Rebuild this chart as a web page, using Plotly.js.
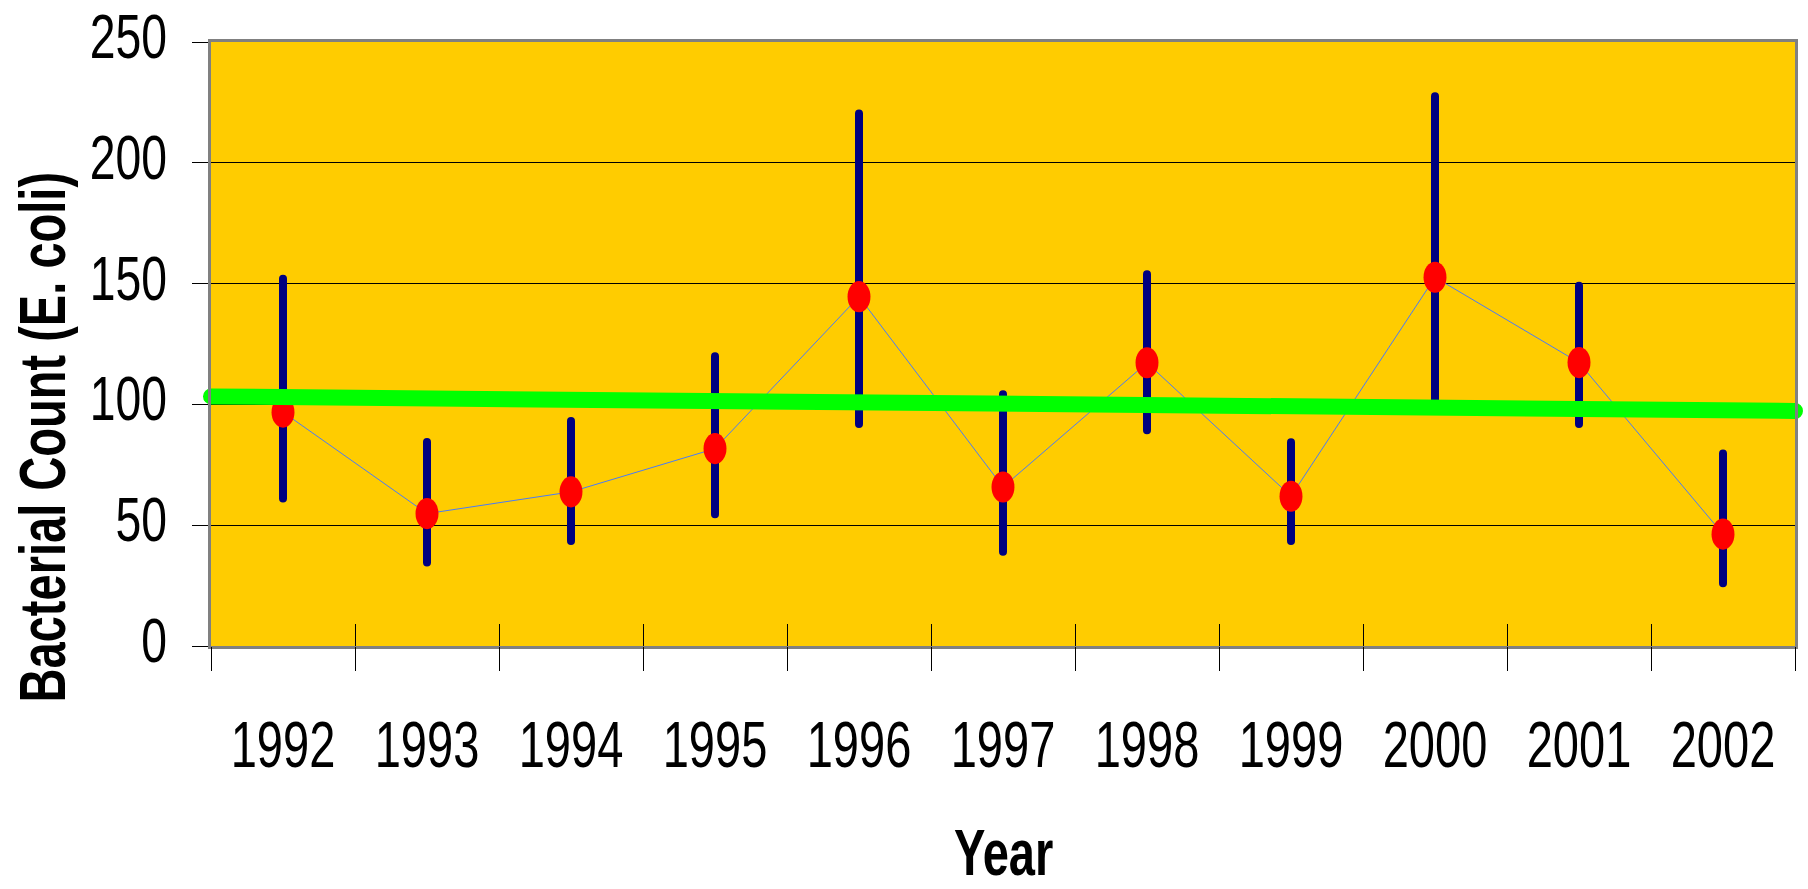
<!DOCTYPE html>
<html>
<head>
<meta charset="utf-8">
<script src="https://cdn.plot.ly/plotly-3.0.1.min.js"></script>
<style>html,body{margin:0;padding:0;background:#fff;}#chart{width:1808px;height:889px;}</style>
</head>
<body>
<div id="chart"></div>
<script>
// Data
const years = [1992, 1993, 1994, 1995, 1996, 1997, 1998, 1999, 2000, 2001, 2002];
const yearLabels = ["1992", "1993", "1994", "1995", "1996", "1997", "1998", "1999", "2000", "2001", "2002"];
const meanCount = [96.8, 54.8, 63.8, 81.7, 144.6, 65.8, 117.2, 62.0, 152.6, 117.3, 46.3];
const upperCount = [152.0, 84.4, 93.1, 119.9, 220.4, 104.2, 153.9, 84.3, 227.5, 149.1, 79.7];
const lowerCount = [61.0, 34.6, 43.5, 54.5, 91.9, 39.0, 89.3, 43.5, 101.5, 91.9, 26.0];
const trendYears = [1991.5, 2002.5];
const trendCount = [103.3, 97.3];
const yTicks = [0, 50, 100, 150, 200, 250];
const xTitle = "Year";
const yTitle = "Bacterial Count (E. coli)";

const errPlus = meanCount.map((m, i) => upperCount[i] - m);
const errMinus = meanCount.map((m, i) => m - lowerCount[i]);

const SANS = "Liberation Sans, Arial, sans-serif";
const SQUEEZE = 0.735; // horizontal compression to mimic the narrow typeface
const TREND_COLOR = "#00FF00";

const traces = [
  {
    type: "scatter",
    mode: "lines+markers",
    x: years,
    y: meanCount,
    line: {color: "#4A7BF7", width: 1},
    marker: {color: "#FF0000", size: 27, line: {width: 0}},
    error_y: {
      type: "data",
      symmetric: false,
      array: errPlus,
      arrayminus: errMinus,
      color: "#000080",
      thickness: 8,
      width: 0
    },
    showlegend: false,
    hoverinfo: "x+y"
  },
  {
    type: "scatter",
    mode: "lines",
    x: trendYears,
    y: trendCount,
    xaxis: "x2",
    line: {color: TREND_COLOR, width: 16},
    showlegend: false,
    hoverinfo: "skip"
  },
  {
    type: "scatter",
    mode: "lines",
    x: [],
    y: [],
    xaxis: "x3",
    showlegend: false,
    hoverinfo: "skip"
  }
];

const xRange = [1991.5, 2002.5];

// y tick labels as right-aligned annotations so they can be drawn in a narrow face
const yLabelAnns = yTicks.map(function (v) {
  return {
    text: String(v),
    xref: "paper",
    yref: "y",
    x: -0.0265,
    y: v,
    xanchor: "right",
    yanchor: "middle",
    yshift: 6,
    showarrow: false,
    font: {family: SANS, size: 63, color: "#000000"}
  };
});

const layout = {
  width: 1808,
  height: 889,
  margin: {l: 211, r: 13, t: 42, b: 243, pad: 0},
  paper_bgcolor: "#FFFFFF",
  plot_bgcolor: "#FFCC00",
  showlegend: false,
  font: {family: SANS, color: "#000000"},
  xaxis: {
    range: xRange,
    tickmode: "array",
    tickvals: years,
    ticktext: yearLabels,
    tickangle: 0,
    ticks: "",
    ticklabelstandoff: 41,
    tickfont: {family: SANS, size: 64, color: "#000000"},
    showgrid: false,
    zeroline: false,
    showline: true,
    linecolor: "#808080",
    linewidth: 3,
    mirror: true,
    fixedrange: true
  },
  xaxis2: {
    overlaying: "x",
    anchor: "y",
    side: "bottom",
    range: xRange,
    tickmode: "linear",
    tick0: 1991.5,
    dtick: 1,
    ticks: "inside",
    ticklen: 22,
    tickwidth: 1,
    tickcolor: "#000000",
    showticklabels: false,
    showgrid: false,
    zeroline: false,
    showline: false,
    fixedrange: true
  },
  xaxis3: {
    overlaying: "x",
    anchor: "y",
    side: "bottom",
    range: xRange,
    tickmode: "linear",
    tick0: 1991.5,
    dtick: 1,
    ticks: "outside",
    ticklen: 24,
    tickwidth: 1,
    tickcolor: "#000000",
    showticklabels: false,
    showgrid: false,
    zeroline: false,
    showline: false,
    fixedrange: true
  },
  yaxis: {
    range: [0, 250],
    tickmode: "array",
    tickvals: yTicks,
    ticks: "outside",
    ticklen: 16,
    tickwidth: 1,
    tickcolor: "#000000",
    showticklabels: false,
    showgrid: true,
    gridcolor: "#000000",
    gridwidth: 1,
    zeroline: false,
    showline: true,
    linecolor: "#808080",
    linewidth: 3,
    mirror: true,
    fixedrange: true
  },
  annotations: [
    {
      text: yTitle,
      xref: "paper",
      yref: "paper",
      x: -0.106,
      y: 0.346,
      xanchor: "center",
      yanchor: "middle",
      textangle: -90,
      showarrow: false,
      font: {family: SANS, size: 64, weight: 700, color: "#000000"}
    },
    {
      text: xTitle,
      xref: "paper",
      yref: "paper",
      x: 0.5,
      y: -0.343,
      xanchor: "center",
      yanchor: "middle",
      showarrow: false,
      font: {family: SANS, size: 64, weight: 700, color: "#000000"}
    }
  ].concat(yLabelAnns)
};

function anchorX(t, mode) {
  let bb;
  try { bb = t.getBBox(); } catch (e) { bb = null; }
  if (bb && bb.width > 0) {
    if (mode === "right") return bb.x + bb.width;
    if (mode === "center") return bb.x + bb.width / 2;
    const anchor = t.getAttribute("text-anchor") || "start";
    if (anchor === "end") return bb.x + bb.width;
    if (anchor === "middle") return bb.x + bb.width / 2;
    return bb.x;
  }
  return parseFloat(t.getAttribute("x")) || 0;
}

function squeezeOne(t, sx, mode) {
  const cur = t.getAttribute("transform") || "";
  if (t.getAttribute("data-sq") === cur && cur.indexOf("scale(" + sx) >= 0) return;
  const x = anchorX(t, mode);
  const next = cur + " translate(" + x + ",0) scale(" + sx + ",1) translate(" + (-x) + ",0)";
  t.setAttribute("data-sq", next);
  t.setAttribute("transform", next);
}

function styleMarks(gd) {
  gd.querySelectorAll(".xtick text").forEach(function (t) { squeezeOne(t, SQUEEZE, "auto"); });
  gd.querySelectorAll("g.annotation").forEach(function (g) {
    const idx = parseInt(g.getAttribute("data-index"), 10);
    const ann = (gd.layout.annotations || [])[idx];
    const mode = ann && ann.xanchor === "right" ? "right" : "center";
    g.querySelectorAll("text.annotation-text").forEach(function (t) { squeezeOne(t, SQUEEZE, mode); });
  });
  gd.querySelectorAll(".errorbar path").forEach(function (p) {
    if (p.style.strokeLinecap !== "round") p.style.strokeLinecap = "round";
  });
  gd.querySelectorAll(".scatterlayer .trace:first-child .points path").forEach(function (p) {
    const cur = p.getAttribute("transform") || "";
    if (cur.indexOf("scale(") >= 0) return;
    p.setAttribute("transform", cur + " scale(0.85,1.15)");
  });
  // trend line: round caps that run just past the frame, as in the reference
  gd.querySelectorAll("path.js-line").forEach(function (p) {
    if (p.style.stroke !== "rgb(0, 255, 0)") return;
    if (p.style.strokeLinecap !== "round") p.style.strokeLinecap = "round";
    let el = p.parentNode;
    while (el && el !== gd) {
      if (el.getAttribute && el.getAttribute("clip-path")) el.removeAttribute("clip-path");
      el = el.parentNode;
    }
  });
}

const gd = document.getElementById("chart");
const observer = new MutationObserver(function () { styleMarks(gd); });
Plotly.newPlot(gd, traces, layout, {displayModeBar: false, staticPlot: true}).then(function () {
  styleMarks(gd);
  observer.observe(gd, {subtree: true, childList: true, attributes: true, attributeFilter: ["transform", "x", "y", "clip-path"]});
  gd.on("plotly_afterplot", function () { styleMarks(gd); });
  setTimeout(function () { styleMarks(gd); }, 100);
});
</script>
</body>
</html>
